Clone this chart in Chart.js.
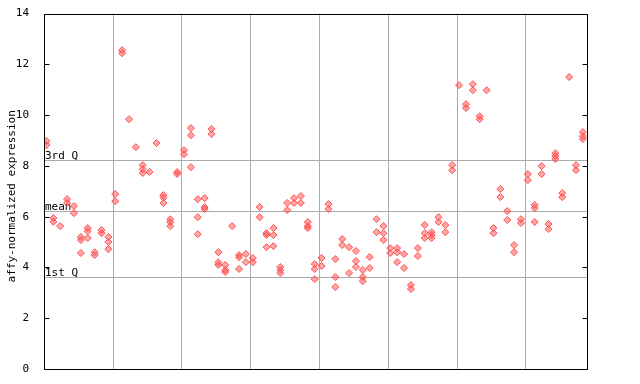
<!DOCTYPE html>
<html>
<head>
<meta charset="utf-8">
<script src="https://cdn.jsdelivr.net/npm/chart.js@4"></script>
<style>
  html, body { margin: 0; padding: 0; background: #fff; }
  #wrap { width: 640px; height: 384px; }
</style>
</head>
<body>
<div id="wrap"><canvas id="exprChart" width="640" height="384"></canvas></div>
<script>
// expression values per sample (replicates)
const sampleValues = [
  [8.98, 8.82], [5.95, 5.8], [5.63], [6.69, 6.54], [6.42, 6.14],
  [5.2, 5.08, 4.57], [5.55, 5.43, 5.16], [4.6, 4.49], [5.47, 5.35], [5.2, 5.0, 4.72],
  [6.89, 6.61], [12.56, 12.44], [9.84], [8.74], [8.03, 7.87, 7.72],
  [7.76], [8.9], [6.85, 6.75, 6.54], [5.9, 5.79, 5.63], [7.76, 7.68],
  [8.62, 8.46], [9.49, 9.21, 7.95], [6.69, 5.98, 5.31], [6.73, 6.38, 6.3], [9.45, 9.25],
  [4.6, 4.2, 4.1], [4.1, 3.9, 3.82], [5.63], [4.49, 4.4, 3.94], [4.53, 4.21],
  [4.37, 4.21], [6.38, 5.98], [5.35, 5.28, 4.8], [5.55, 5.28, 4.84], [4.02, 3.9, 3.78],
  [6.54, 6.26], [6.73, 6.54], [6.81, 6.54], [5.79, 5.63, 5.55], [4.13, 3.94, 3.54],
  [4.37, 4.06], [6.5, 6.3], [4.33, 3.62, 3.23], [5.12, 4.88], [4.8, 3.78],
  [4.65, 4.25, 4.02], [3.9, 3.62, 3.46], [4.41, 3.98], [5.9, 5.39], [5.63, 5.35, 5.08],
  [4.76, 4.57], [4.76, 4.6, 4.21], [4.53, 3.98], [3.31, 3.15], [4.76, 4.45],
  [5.67, 5.35, 5.16], [5.39, 5.28, 5.16], [5.98, 5.79], [5.67, 5.39], [8.03, 7.83],
  [11.18], [10.43, 10.28], [11.22, 10.98], [9.96, 9.84], [10.98],
  [5.55, 5.35], [7.09, 6.77], [6.22, 5.87], [4.88, 4.6], [5.9, 5.75],
  [7.68, 7.44], [6.46, 6.34, 5.79], [7.99, 7.68], [5.71, 5.51], [8.5, 8.39, 8.27],
  [6.93, 6.77], [11.5], [8.03, 7.83], [9.33, 9.17, 9.06]
];
// sample-group separators (vertical grid lines)
const groupBounds = [9.7, 19.7, 29.7, 39.7, 49.7, 59.7, 69.7];
const yTicks = [0, 2, 4, 6, 8, 10, 12, 14];
const refValues = [8.22, 6.21, 3.61];
const refLabels = ['3rd Q', 'mean', '1st Q'];

const points = sampleValues.flatMap((vals, i) => vals.map(v => ({ x: i, y: v })));
const monoFont = '11px "DejaVu Sans Mono", monospace';

// axis box, inward ticks, quartile lines and the y title
const framePlugin = {
  id: 'frame',
  beforeDatasetsDraw(chart) {
    const { ctx, chartArea: a, scales: { y } } = chart;
    ctx.save();
    ctx.strokeStyle = '#aaaaaa';
    ctx.lineWidth = 1;
    ctx.font = monoFont;
    ctx.fillStyle = '#000';
    ctx.textAlign = 'left';
    ctx.textBaseline = 'bottom';
    refValues.forEach((v, k) => {
      const py = Math.round(y.getPixelForValue(v)) + 0.5;
      ctx.beginPath();
      ctx.moveTo(a.left, py);
      ctx.lineTo(a.right, py);
      ctx.stroke();
      ctx.fillText(refLabels[k], a.left + 1, py + 1);
    });
    ctx.restore();
  },
  afterDraw(chart) {
    const { ctx, chartArea: a, scales: { y } } = chart;
    ctx.save();
    ctx.strokeStyle = '#000';
    ctx.lineWidth = 1;
    const l = Math.round(a.left) + 0.5, r = Math.round(a.right) + 0.5;
    const t = Math.round(a.top) + 0.5, b = Math.round(a.bottom) + 0.5;
    ctx.strokeRect(l, t, r - l, b - t);
    yTicks.forEach(v => {
      const py = Math.round(y.getPixelForValue(v)) + 0.5;
      ctx.beginPath();
      ctx.moveTo(l, py); ctx.lineTo(l + 5, py);
      ctx.moveTo(r, py); ctx.lineTo(r - 5, py);
      ctx.stroke();
    });
    ctx.font = monoFont;
    ctx.fillStyle = '#000';
    ctx.textAlign = 'center';
    ctx.textBaseline = 'middle';
    ctx.translate(12, (a.top + a.bottom) / 2 + 5);
    ctx.rotate(-Math.PI / 2);
    ctx.fillText('affy-normalized expression', 0, 0);
    ctx.restore();
  }
};

new Chart(document.getElementById('exprChart').getContext('2d'), {
  type: 'scatter',
  data: {
    datasets: [{
      data: points,
      pointStyle: 'rectRot',
      pointRadius: 3.5,
      pointHoverRadius: 3.5,
      borderWidth: 1,
      borderColor: 'rgb(255,80,80)',
      backgroundColor: 'rgba(255,80,80,0.5)'
    }]
  },
  options: {
    responsive: false,
    animation: false,
    events: [],
    layout: { padding: { top: 13, right: 53, bottom: 15, left: 0 } },
    plugins: { legend: { display: false }, tooltip: { enabled: false } },
    scales: {
      x: {
        type: 'linear',
        min: -0.36,
        max: 78.6,
        afterBuildTicks: s => { s.ticks = groupBounds.map(v => ({ value: v })); },
        afterFit: s => { s.height = 0; },
        ticks: { display: false },
        grid: { color: '#aaaaaa', lineWidth: 1, drawTicks: false },
        border: { display: false }
      },
      y: {
        min: 0,
        max: 14,
        afterBuildTicks: s => { s.ticks = yTicks.map(v => ({ value: v })); },
        afterFit: s => { s.width = 44; },
        ticks: { color: '#000', padding: 7, font: { family: '"DejaVu Sans Mono", monospace', size: 11 } },
        grid: { display: false },
        border: { display: false }
      }
    }
  },
  plugins: [framePlugin]
});
</script>
</body>
</html>
